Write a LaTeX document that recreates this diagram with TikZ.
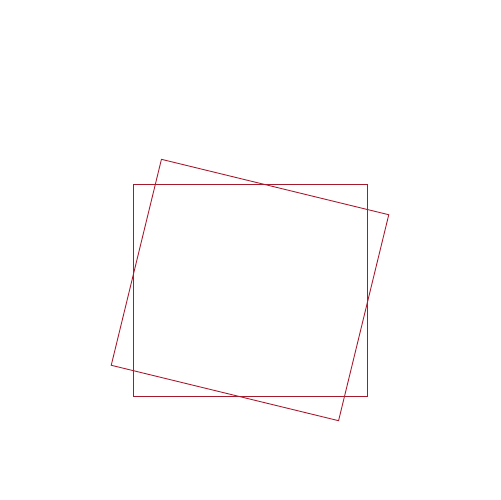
\documentclass[tikz,border=0pt]{standalone}
\definecolor{boxred}{RGB}{165,25,45}
\begin{document}
\begin{tikzpicture}[x=0.02cm,y=-0.02cm,
  box/.style={draw=boxred,line width=0.5pt}]
\useasboundingbox (0,0) rectangle (500,500);
\coordinate (c) at (250,290);
\draw[box] (133,184) rectangle (367,396);
\draw[box,rotate around={-13.7:(c)}] (133,184) rectangle (367,396);
\end{tikzpicture}
\end{document}
